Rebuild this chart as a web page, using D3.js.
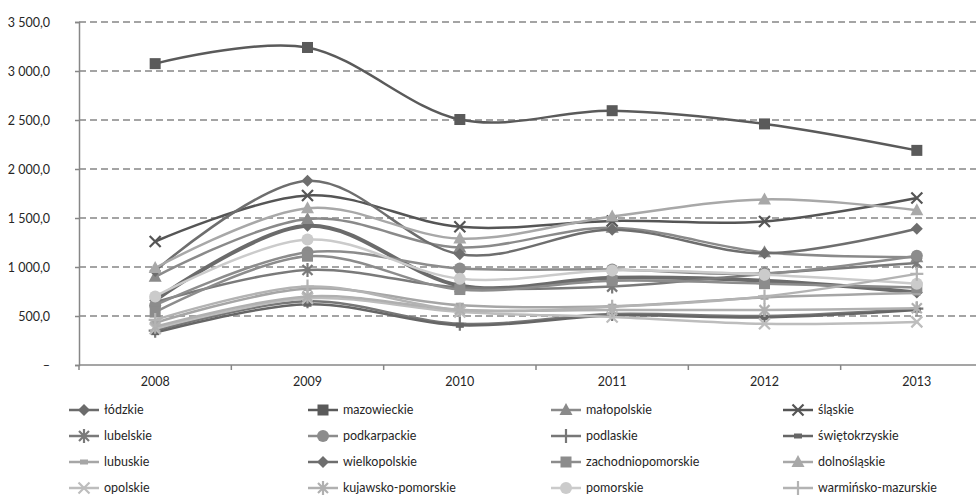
<!DOCTYPE html>
<html><head><meta charset="utf-8">
<script src="https://cdn.jsdelivr.net/npm/d3@7"></script>
<style>
html,body{margin:0;padding:0;background:#fff;}
svg{display:block;font-family:"Liberation Sans Narrow","Lato",sans-serif;}
</style></head>
<body>
<svg id="c" width="976" height="497"></svg>
<script>
// ---- data ----
const years = ["2008","2009","2010","2011","2012","2013"];
const yTicks = [0,500,1000,1500,2000,2500,3000,3500];
const seriesNames = ["łódzkie","mazowieckie","małopolskie","śląskie","lubelskie","podkarpackie","podlaskie","świętokrzyskie","lubuskie","wielkopolskie","zachodniopomorskie","dolnośląskie","opolskie","kujawsko-pomorskie","pomorskie","warmińsko-mazurskie"];
const lodzkie            = [660, 1420, 810, 890, 860, 740];
const mazowieckie        = [3075, 3240, 2505, 2595, 2460, 2190];
const malopolskie        = [900, 1490, 1200, 1400, 1150, 1100];
const slaskie            = [1260, 1730, 1410, 1470, 1465, 1705];
const lubelskie          = [640, 970, 790, 800, 930, 1040];
const podkarpackie       = [610, 1150, 985, 975, 935, 1115];
const podlaskie          = [350, 650, 420, 520, 500, 575];
const swietokrzyskie     = [330, 620, 405, 505, 485, 560];
const lubuskie           = [430, 780, 610, 600, 690, 735];
const wielkopolskie      = [960, 1880, 1130, 1380, 1140, 1390];
const zachodniopomorskie = [540, 1110, 770, 860, 830, 790];
const dolnoslaskie       = [990, 1600, 1290, 1515, 1690, 1580];
const opolskie           = [370, 680, 540, 490, 420, 440];
const kujawskopomorskie  = [390, 700, 565, 560, 560, 580];
const pomorskie          = [700, 1280, 880, 965, 920, 830];
const warminskomazurskie = [460, 800, 560, 595, 700, 930];
const seriesValues = [lodzkie, mazowieckie, malopolskie, slaskie, lubelskie, podkarpackie, podlaskie, swietokrzyskie, lubuskie, wielkopolskie, zachodniopomorskie, dolnoslaskie, opolskie, kujawskopomorskie, pomorskie, warminskomazurskie];

// ---- styles ----
const styles = {
  "łódzkie":            {c:"#6b6b6b", m:"diamond", w:4},
  "mazowieckie":        {c:"#5a5a5a", m:"square", w:2.5},
  "małopolskie":        {c:"#8a8a8a", m:"triangle", w:2.5},
  "śląskie":            {c:"#555555", m:"x", w:2.5},
  "lubelskie":          {c:"#7a7a7a", m:"asterisk", w:2.5},
  "podkarpackie":       {c:"#8c8c8c", m:"circle", w:2.5},
  "podlaskie":          {c:"#777777", m:"plus", w:2.5},
  "świętokrzyskie":     {c:"#666666", m:"dash", w:2.5},
  "lubuskie":           {c:"#a6a6a6", m:"dash", w:2.5},
  "wielkopolskie":      {c:"#6e6e6e", m:"diamond", w:2.5},
  "zachodniopomorskie": {c:"#8c8c8c", m:"square", w:2.5},
  "dolnośląskie":       {c:"#a8a8a8", m:"triangle", w:2.5},
  "opolskie":           {c:"#bdbdbd", m:"x", w:2.5},
  "kujawsko-pomorskie": {c:"#b0b0b0", m:"asterisk", w:2.5},
  "pomorskie":          {c:"#cbcbcb", m:"circle", w:2.5},
  "warmińsko-mazurskie":{c:"#b3b3b3", m:"plus", w:2.5}
};

const svg = d3.select("#c");
const pLeft = 79, pRight = 993, pTop = 22, pBottom = 365;
const x = d3.scaleBand().domain(years).range([pLeft, pRight]);
const y = d3.scaleLinear().domain([0, 3500]).range([pBottom, pTop]);
const cx = d => x(d) + x.bandwidth()/2;

const loc = d3.formatLocale({decimal:",", thousands:"\u00a0", grouping:[3], currency:["",""]});
const fmt = loc.format(",.1f");

// gridlines
svg.append("g").selectAll("line").data(yTicks.filter(t=>t>0)).join("line")
  .attr("x1", pLeft).attr("x2", pRight)
  .attr("y1", d=>y(d)).attr("y2", d=>y(d))
  .attr("stroke", "#878787").attr("stroke-width", 1.4).attr("stroke-dasharray", "7,4");

// y axis
const ya = svg.append("g").attr("transform", `translate(${pLeft},0)`)
  .call(d3.axisLeft(y).tickValues(yTicks).tickSize(4).tickPadding(25).tickFormat(d => d===0 ? "\u2013" : fmt(d)));
ya.select(".domain").attr("stroke", "#878787").attr("stroke-width", 1.5);
ya.selectAll(".tick line").attr("stroke", "#878787").attr("stroke-width", 1.5);
ya.selectAll(".tick text").attr("fill", "#262626").style("font-size", "12.5px")
  .attr("font-family", "'Liberation Sans Narrow', Lato, sans-serif");

// x axis
const xa = svg.append("g").attr("transform", `translate(0,${pBottom})`)
  .call(d3.axisBottom(x).tickSize(0).tickPadding(12));
xa.select(".domain").remove();
xa.selectAll(".tick text").attr("fill", "#262626").style("font-size", "12.5px")
  .attr("font-family", "'Liberation Sans Narrow', Lato, sans-serif");
svg.append("line").attr("x1", pLeft).attr("x2", pRight).attr("y1", pBottom).attr("y2", pBottom)
  .attr("stroke", "#878787").attr("stroke-width", 1.5);
svg.append("g").selectAll("line").data(years.map(d=>x(d)).concat([pRight])).join("line")
  .attr("x1", d=>d).attr("x2", d=>d).attr("y1", pBottom).attr("y2", pBottom+5)
  .attr("stroke", "#878787").attr("stroke-width", 1.5);

// marker drawing
function drawMarker(g, type, color) {
  switch(type) {
    case "diamond": g.append("path").attr("d","M0,-6L6,0L0,6L-6,0Z").attr("fill",color); break;
    case "square": g.append("rect").attr("x",-5.5).attr("y",-5.5).attr("width",11).attr("height",11).attr("fill",color); break;
    case "triangle": g.append("path").attr("d","M0,-7L6.5,5L-6.5,5Z").attr("fill",color); break;
    case "circle": g.append("circle").attr("r",6).attr("fill",color); break;
    case "x": g.append("path").attr("d","M-5.5,-5.5L5.5,5.5M5.5,-5.5L-5.5,5.5").attr("stroke",color).attr("stroke-width",2.2).attr("fill","none"); break;
    case "asterisk": g.append("path").attr("d","M-5,-5L5,5M5,-5L-5,5M0,-7L0,7").attr("stroke",color).attr("stroke-width",2.2).attr("fill","none"); break;
    case "plus": g.append("path").attr("d","M-6.5,0L6.5,0M0,-7L0,7").attr("stroke",color).attr("stroke-width",2.2).attr("fill","none"); break;
    case "dash": g.append("rect").attr("x",-4).attr("y",-2.5).attr("width",8).attr("height",5).attr("fill",color); break;
  }
}

const series = seriesNames.map((n,i) => ({name:n, values: seriesValues[i].map((v,j)=>({year:years[j], v}))}));
const line = d3.line().x(d=>cx(d.year)).y(d=>y(d.v)).curve(d3.curveCatmullRom.alpha(0));

const plot = svg.append("g");
series.forEach(s => {
  const st = styles[s.name];
  const g = plot.append("g");
  g.append("path").datum(s.values).attr("d", line)
    .attr("fill","none").attr("stroke", st.c).attr("stroke-width", st.w).attr("stroke-linejoin","round");
  s.values.forEach(p => {
    const mg = g.append("g").attr("transform", `translate(${cx(p.year)},${y(p.v)})`);
    drawMarker(mg, st.m, st.c);
  });
});

// legend
const colX = [69, 308, 551, 783];
const rowY = [410, 436, 462, 488];
const leg = svg.append("g");
seriesNames.forEach((n,i) => {
  const st = styles[n];
  const gx = colX[i%4], gy = rowY[Math.floor(i/4)];
  const g = leg.append("g").attr("transform", `translate(${gx},${gy})`);
  g.append("line").attr("x1",0).attr("x2",30).attr("y1",0).attr("y2",0).attr("stroke",st.c).attr("stroke-width",2.5);
  const mg = g.append("g").attr("transform","translate(15,0)");
  drawMarker(mg, st.m, st.c);
  g.append("text").attr("x",35).attr("y",0).attr("dy","0.35em").attr("fill","#262626")
    .style("font-size","12.5px").text(n);
});
</script>
</body></html>
